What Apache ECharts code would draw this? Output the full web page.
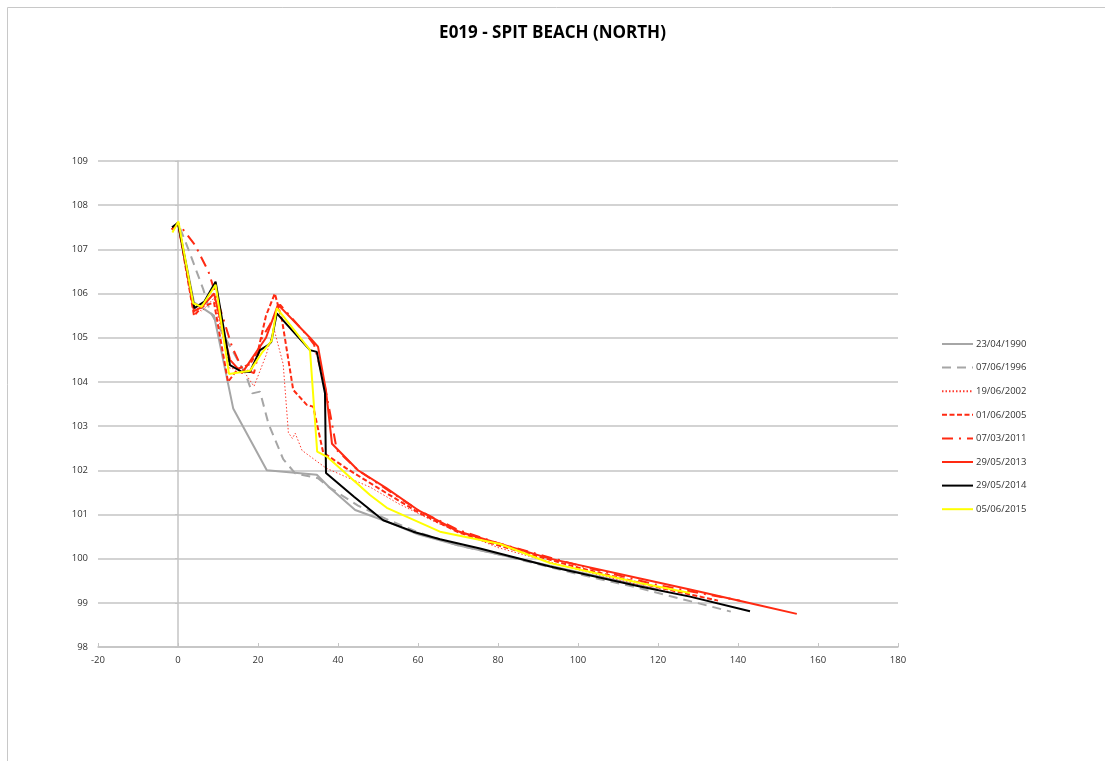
<!DOCTYPE html>
<html>
<head>
<meta charset="utf-8">
<script src="https://cdn.jsdelivr.net/npm/echarts@6/dist/echarts.min.js"></script>
<style>
html,body{margin:0;padding:0;background:#fff;}
#chart{width:1105px;height:761px;}
</style>
</head>
<body>
<div id="chart"></div>
<script>
const title = "E019 - SPIT BEACH (NORTH)";
const seriesNames = ["23/04/1990","07/06/1996","19/06/2002","01/06/2005","07/03/2011","29/05/2013","29/05/2014","05/06/2015"];

const x1990 = [-1.5,0,4,9,13.8,22.2,34.7,38,44.3,51.3,60,70,80,100,120];
const y1990 = [107.45,107.6,105.8,105.5,103.4,102.0,101.9,101.6,101.1,100.87,100.55,100.3,100.1,99.7,99.3];

const x1996 = [-1.5,0,2.6,6.3,8,10.5,16.8,18.6,20.5,22.6,26.3,29.3,35,38,45,52,60,70,80,100,115.5,138.2];
const y1996 = [107.45,107.6,107.0,106.1,105.6,105.2,104.2,103.74,103.78,103.06,102.25,101.93,101.82,101.6,101.2,100.9,100.6,100.3,100.1,99.65,99.33,98.8];

const x2002 = [-1.5,0,4,6,9,13,16,19,22,24,26.3,27.6,28.6,29.3,31,37,42,48,55,65,80,100,120,130];
const y2002 = [107.45,107.6,105.7,105.6,105.9,104.3,104.3,103.9,104.6,105.2,104.4,102.85,102.72,102.84,102.45,102.05,101.85,101.62,101.25,100.8,100.25,99.75,99.3,99.1];

const x2005 = [-1.5,0,4,6,9,12.5,15,18,20,22,24.2,26,28.8,32.2,33.8,36.3,42,50,60,70,80,100,120,135];
const y2005 = [107.45,107.6,105.5,105.7,105.8,104.0,104.3,104.4,104.7,105.5,106.0,105.4,103.82,103.48,103.44,102.4,102.05,101.6,101.05,100.6,100.3,99.8,99.35,99.05];

const x2011 = [-1.5,0,4.25,7.6,9,13.5,16,19,21,23,25.5,32.2,34,36.5,38,39.7,45,50,60,70,80,100,120,140.5];
const y2011 = [107.45,107.6,107.1,106.5,106.1,104.8,104.3,104.2,105.0,105.3,105.75,105.06,104.85,104.0,103.3,102.46,102.0,101.7,101.1,100.65,100.35,99.85,99.4,99.05];

const x2013 = [-1.5,0,4,6,9,13,16,19,22,25,33,35,37,38.5,45,52,60,70,93,115.5,128,145,154.7];
const y2013 = [107.45,107.6,105.6,105.7,106.0,104.5,104.2,104.6,105.0,105.75,105.0,104.8,103.8,102.6,102.0,101.6,101.1,100.62,100.0,99.55,99.3,98.95,98.75];

const x2014 = [-1.5,0,4.1,6.6,9.4,13,15.9,18,20.5,22.6,23.3,24.7,33,34.7,36.75,37,44,51.3,58.8,65.5,75.5,93,115.5,128,143];
const y2014 = [107.5,107.6,105.67,105.82,106.27,104.38,104.23,104.23,104.72,104.84,104.9,105.55,104.72,104.68,103.74,101.94,101.4,100.87,100.61,100.44,100.23,99.82,99.37,99.14,98.81];

const x2015 = [-1.4,0.1,3.8,5.9,9.4,12.75,18,20.9,23.4,24.7,33,34.8,37.2,48,52.2,65.5,80.5,93,115.5,128];
const y2015 = [107.38,107.63,105.78,105.7,106.2,104.18,104.25,104.65,104.93,105.67,104.72,102.42,102.31,101.44,101.15,100.61,100.33,99.9,99.45,99.22];

const xTicks = [-20,0,20,40,60,80,100,120,140,160,180];
const yTicks = [98,99,100,101,102,103,104,105,106,107,108,109];

const xs = [x1990,x1996,x2002,x2005,x2011,x2013,x2014,x2015];
const ys = [y1990,y1996,y2002,y2005,y2011,y2013,y2014,y2015];
const styles = [
  {color:'#a6a6a6', width:2, type:'solid'},
  {color:'#a6a6a6', width:2, type:[9,6]},
  {color:'#ff3b2f', width:1, type:[1.5,2]},
  {color:'#ff2a12', width:2, type:[5,2.5]},
  {color:'#ff2a12', width:2, type:[11,6,2,6]},
  {color:'#ff2a12', width:2, type:'solid'},
  {color:'#000000', width:2, type:'solid'},
  {color:'#ffff00', width:2, type:'solid'}
];

const series = seriesNames.map((n,i)=>({
  name:n,
  type:'line',
  symbol:'none',
  showSymbol:false,
  smooth:false,
  animation:false,
  color:styles[i].color,
  lineStyle:{color:styles[i].color,width:styles[i].width,type:styles[i].type},
  data: xs[i].map((x,k)=>[x, ys[i][k]])
}));

const chart = echarts.init(document.getElementById('chart'));
const font = "'Open Sans', 'Noto Sans', sans-serif";
chart.setOption({
  backgroundColor:'#ffffff',
  animation:false,
  title:{
    text:title, left:'center', top:20,
    textStyle:{fontFamily:font, fontWeight:'bold', fontSize:17, color:'#000'}
  },
  graphic:[{type:'rect', silent:true, shape:{x:7.5,y:7.5,width:1300,height:900}, style:{fill:'none', stroke:'#c8c8c8', lineWidth:1}}],
  grid:{left:98, right:207, top:161, bottom:114, containLabel:false},
  legend:{
    orient:'vertical', left:941, top:339, padding:0,
    itemWidth:31, itemHeight:12, itemGap:13.6,
    itemStyle:{opacity:0, borderWidth:0},
    textStyle:{fontFamily:font, fontSize:9.5, color:'#333', padding:[0,0,0,-2]},
    data:seriesNames
  },
  xAxis:{
    type:'value', min:xTicks[0], max:xTicks[xTicks.length-1], interval:20,
    axisLine:{show:true, onZero:false, lineStyle:{color:'#c4c4c4', width:1.5}},
    axisTick:{show:true, inside:true, length:4, lineStyle:{color:'#c4c4c4'}},
    axisLabel:{fontFamily:font, fontSize:9.5, color:'#333', margin:8},
    splitLine:{show:false}
  },
  yAxis:[{
    type:'value', min:yTicks[0], max:yTicks[yTicks.length-1], interval:1,
    position:'left',
    axisLine:{show:false, onZero:false},
    axisTick:{show:false},
    axisLabel:{fontFamily:font, fontSize:9.5, color:'#333', margin:10},
    splitLine:{show:true, lineStyle:{color:'#c4c4c4', width:1.5}}
  },{
    type:'value', min:yTicks[0], max:yTicks[yTicks.length-1], interval:1,
    position:'left',
    axisLine:{show:true, onZero:true, lineStyle:{color:'#c4c4c4', width:1.5}},
    axisTick:{show:true, length:3, lineStyle:{color:'#c4c4c4'}},
    axisLabel:{show:false},
    splitLine:{show:false}
  }],
  series: series
});
</script>
</body>
</html>
